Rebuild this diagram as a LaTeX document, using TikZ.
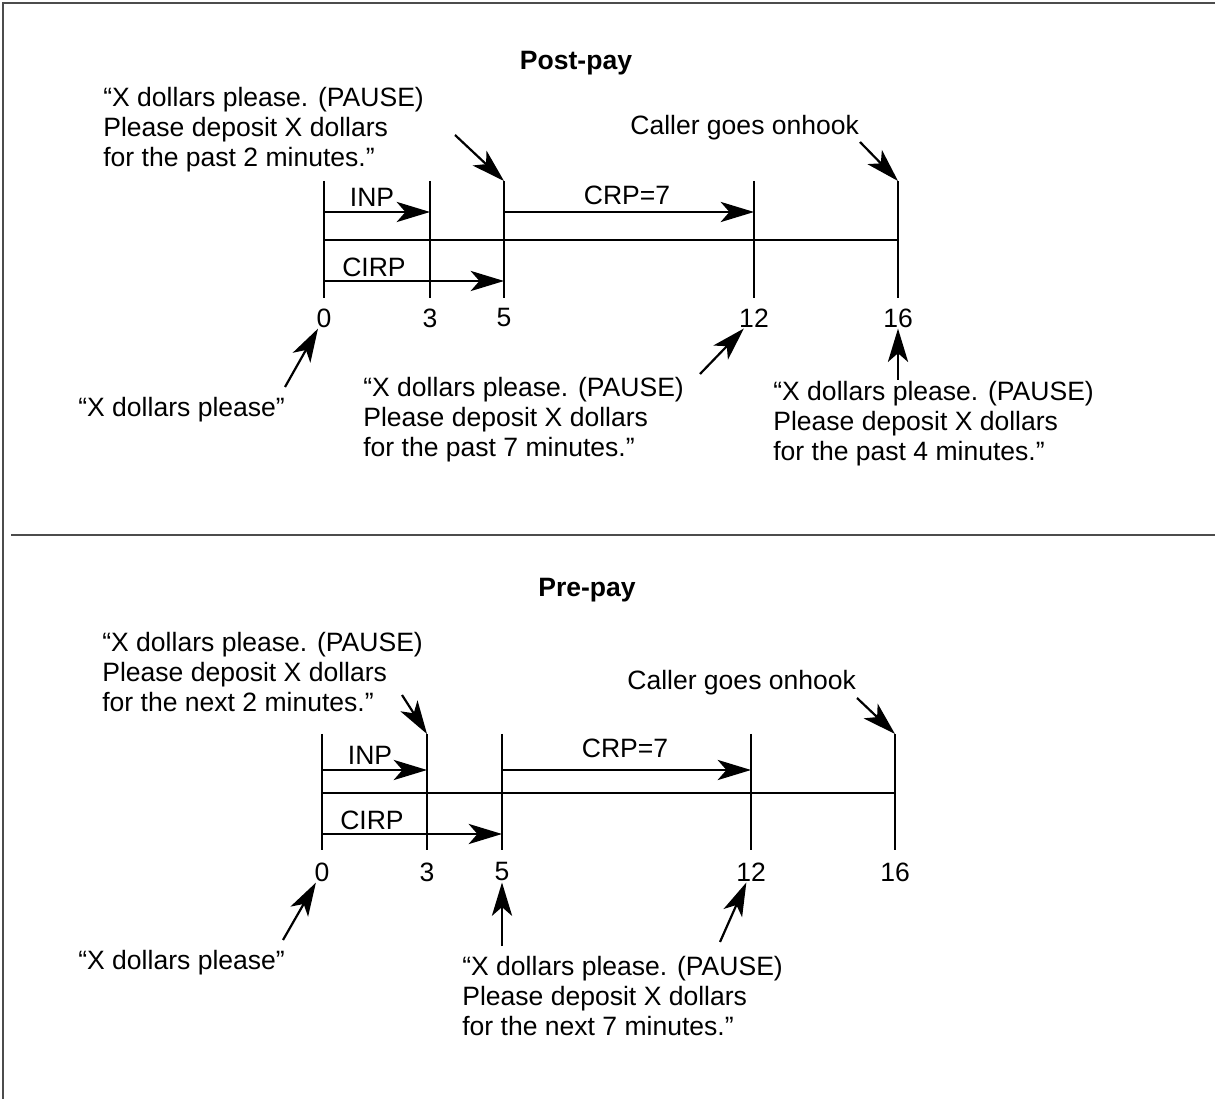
\documentclass[tikz,border=0pt]{standalone}
\usepackage{fontspec}
\setmainfont{Liberation Sans}
\usetikzlibrary{arrows.meta}

\begin{document}
\begin{tikzpicture}[
        txt/.style={font=\fontsize{15.1}{17.1}\selectfont, align=left, inner sep=0pt, anchor=west},
        num/.style={font=\fontsize{15.1}{17.1}\selectfont, inner sep=0.5pt},
        ttl/.style={font=\fontsize{15.1}{17.1}\selectfont\bfseries},
        tickline/.style={line width=1.25pt},
        dur/.style={line width=1.25pt, -{Stealth[length=19pt, width=11.5pt, inset=5pt]}},
        ptr/.style={line width=1.25pt, -{Stealth[length=19pt, width=11.5pt, inset=5pt]}}
        ]
        \useasboundingbox (0,0) rectangle (24.3,-21.98);
        % frame
        \draw[line width=0.8pt, black!70] (0.06,-21.98) -- (0.06,-0.06) -- (24.3,-0.06);
        \draw[line width=0.8pt, black!70] (0.22,-10.7) -- (24.3,-10.7);

        % Post-pay
        \node[ttl] (posttitle) at (11.52,-1.26) {Post-pay};
        \foreach \t/\x in {0/6.48, 3/8.6, 5/10.08, 12/15.08, 16/17.96} {
                \draw[tickline] (\x,-3.62) coordinate (post\t) -- (\x,-5.96);
                \node[num] (postn\t) at (\x,-6.36) {\t};
            }
        \coordinate (postmain) at (0,-4.8);
        \coordinate (postrow1) at (0,-4.24);
        \coordinate (postrow2) at (0,-5.62);
        \draw[tickline] (post0 |- postmain) -- (post16 |- postmain);
        \draw[dur] (post0 |- postrow1) -- (post3 |- postrow1);
        \draw[dur] (post5 |- postrow1) -- (post12 |- postrow1);
        \draw[dur] (post0 |- postrow2) -- (post5 |- postrow2);
        \node[num] (postinp) at (7.44,-3.94) {INP};
        \node[num] (postcrp) at (12.54,-3.9) {CRP=7};
        \node[num] (postcirp) at (7.48,-5.34) {CIRP};

        \node[txt] (postmsga) at (2.06,-2.6) {“X dollars please. (PAUSE)\\Please deposit X dollars\\for the past 2 minutes.”};
        \node[txt] (postcaller) at (12.6,-2.56) {Caller goes onhook};
        \node[txt] (postmsgb) at (1.56,-8.2) {“X dollars please”};
        \node[txt] (postmsgc) at (7.26,-8.4) {“X dollars please. (PAUSE)\\Please deposit X dollars\\for the past 7 minutes.”};
        \node[txt] (postmsgd) at (15.46,-8.48) {“X dollars please. (PAUSE)\\Please deposit X dollars\\for the past 4 minutes.”};

        \draw[ptr] (9.1,-2.7) coordinate (posttaila) -- (post5);
        \draw[ptr] (17.2,-2.84) coordinate (posttailcaller) -- (post16);
        \draw[ptr] (5.7,-7.74) coordinate (posttailb) -- (postn0);
        \draw[ptr] (14.0,-7.48) coordinate (posttailc) -- (postn12);
        \draw[ptr] (17.96,-7.6) coordinate (posttaild) -- (postn16);

        % Pre-pay
        \node[ttl] (pretitle) at (11.74,-11.8) {Pre-pay};
        \foreach \t/\x in {0/6.44, 3/8.54, 5/10.04, 12/15.02, 16/17.9} {
                \draw[tickline] (\x,-14.68) coordinate (pre\t) -- (\x,-17.0);
                \node[num] (pren\t) at (\x,-17.44) {\t};
            }
        \coordinate (premain) at (0,-15.86);
        \coordinate (prerow1) at (0,-15.4);
        \coordinate (prerow2) at (0,-16.68);
        \draw[tickline] (pre0 |- premain) -- (pre16 |- premain);
        \draw[dur] (pre0 |- prerow1) -- (pre3 |- prerow1);
        \draw[dur] (pre5 |- prerow1) -- (pre12 |- prerow1);
        \draw[dur] (pre0 |- prerow2) -- (pre5 |- prerow2);
        \node[num] (preinp) at (7.4,-15.1) {INP};
        \node[num] (precrp) at (12.5,-14.96) {CRP=7};
        \node[num] (precirp) at (7.44,-16.4) {CIRP};

        \node[txt] (premsga) at (2.04,-13.44) {“X dollars please. (PAUSE)\\Please deposit X dollars\\for the next 2 minutes.”};
        \node[txt] (precaller) at (12.54,-13.66) {Caller goes onhook};
        \node[txt] (premsgb) at (1.56,-19.26) {“X dollars please”};
        \node[txt] (premsgc) at (9.24,-19.92) {“X dollars please. (PAUSE)\\Please deposit X dollars\\for the next 7 minutes.”};

        \draw[ptr] (8.04,-13.9) coordinate (pretaila) -- (pre3);
        \draw[ptr] (17.14,-13.96) coordinate (pretailcaller) -- (pre16);
        \draw[ptr] (5.66,-18.8) coordinate (pretailb) -- (pren0);
        \draw[ptr] (10.04,-18.92) coordinate (pretailc) -- (pren5);
        \draw[ptr] (14.4,-18.84) coordinate (pretaild) -- (pren12);
    \end{tikzpicture}
\end{document}
